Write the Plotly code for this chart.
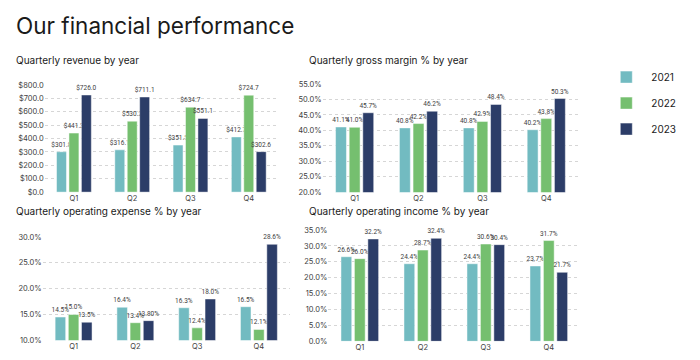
import plotly.graph_objects as go

quarters = ["Q1", "Q2", "Q3", "Q4"]
years = ["2021", "2022", "2023"]
colors = ["#72BBC1", "#75BF6F", "#2C3D68"]

revenue_2021 = [301.8, 316.1, 351.5, 412.7]
revenue_2022 = [441.3, 530.2, 634.7, 724.7]
revenue_2023 = [726.0, 711.1, 551.1, 302.6]

gross_2021 = [41.1, 40.8, 40.8, 40.2]
gross_2022 = [41.0, 42.2, 42.9, 43.8]
gross_2023 = [45.7, 46.2, 48.4, 50.3]

opex_2021 = [14.5, 16.4, 16.3, 16.5]
opex_2022 = [15.0, 13.4, 12.4, 12.1]
opex_2023 = [13.5, 13.8, 18.0, 28.6]
opex_2023_labels = ["13.5%", "13.80%", "18.0%", "28.6%"]

opinc_2021 = [26.6, 24.4, 24.4, 23.7]
opinc_2022 = [26.0, 28.7, 30.6, 31.7]
opinc_2023 = [32.2, 32.4, 30.4, 21.7]

FONT = "Inter, Noto Sans, sans-serif"
LABEL_FONT = "Roboto, Inter, sans-serif"
fig = go.Figure()

panels = [
    ("x", "y", [revenue_2021, revenue_2022, revenue_2023], lambda v: "$%.1f" % v, None),
    ("x2", "y2", [gross_2021, gross_2022, gross_2023], lambda v: "%.1f%%" % v, None),
    ("x3", "y3", [opex_2021, opex_2022, opex_2023], lambda v: "%.1f%%" % v, opex_2023_labels),
    ("x4", "y4", [opinc_2021, opinc_2022, opinc_2023], lambda v: "%.1f%%" % v, None),
]

for pi, (xa, ya, series, fmt, last_labels) in enumerate(panels):
    for i, vals in enumerate(series):
        texts = [fmt(v) for v in vals]
        if last_labels is not None and i == 2:
            texts = last_labels
        fig.add_trace(go.Bar(
            x=quarters, y=vals, name=years[i], xaxis=xa, yaxis=ya,
            marker=dict(color=colors[i], line=dict(color="rgba(255,255,255,0.6)", width=0.8)),
            text=texts, textposition="outside", constraintext="none",
            textfont=dict(size=6.5, color="#404040", family=LABEL_FONT),
            cliponaxis=False, showlegend=(pi == 0), legendgroup=years[i],
        ))

common_y = dict(showgrid=True, gridcolor="#d6d6d6", griddash="dot", gridwidth=1,
                zeroline=False, showline=False, ticks="",
                tickfont=dict(size=7.5, color="#404040", family=FONT))
common_x = dict(showgrid=False, showline=False, ticks="",
                tickfont=dict(size=7.5, color="#404040", family=FONT))

fig.update_layout(
    width=700, height=360,
    margin=dict(l=0, r=0, t=0, b=0),
    paper_bgcolor="white", plot_bgcolor="white",
    barmode="group", bargap=0.36, bargroupgap=0.2,
    font=dict(family=FONT, color="#222"),
    xaxis=dict(domain=[0.064, 0.397], anchor="y", **common_x),
    yaxis=dict(domain=[0.464, 0.769], anchor="x", range=[0, 800], dtick=100,
               tickprefix="$", tickformat=".1f", **common_y),
    xaxis2=dict(domain=[0.461, 0.826], anchor="y2", **common_x),
    yaxis2=dict(domain=[0.464, 0.772], anchor="x2", range=[20, 55], dtick=5,
                ticksuffix="%", tickformat=".1f", **common_y),
    xaxis3=dict(domain=[0.061, 0.414], anchor="y3", **common_x),
    yaxis3=dict(domain=[0.042, 0.336], anchor="x3", range=[10, 30], dtick=5,
                ticksuffix="%", tickformat=".1f", **common_y),
    xaxis4=dict(domain=[0.469, 0.829], anchor="y4", **common_x),
    yaxis4=dict(domain=[0.039, 0.356], anchor="x4", range=[0, 35], dtick=5,
                ticksuffix="%", tickformat=".1f", **common_y),
    legend=dict(x=0.859, y=0.833, xanchor="left", yanchor="top", itemwidth=40,
                font=dict(size=10, color="#222", family=FONT),
                traceorder="grouped", tracegroupgap=7, bgcolor="rgba(0,0,0,0)"),
)

annos = [
    ("Our financial performance", 14, 22, 22.5),
    ("Quarterly revenue by year", 14, 57, 10),
    ("Quarterly gross margin % by year", 307, 57, 10),
    ("Quarterly operating expense % by year", 14, 212, 10),
    ("Quarterly operating income % by year", 307, 212, 10),
]
for t, px, py, fs in annos:
    fig.add_annotation(text=t, x=px / 700, y=1 - py / 360, xref="paper", yref="paper",
                       xanchor="left", yanchor="middle", showarrow=False,
                       font=dict(size=fs, color="#1a1a1a", family=FONT))

fig.write_html("out.html", config={"displayModeBar": False},
               post_script="document.body.style.margin='0';document.body.style.overflow='hidden';")
